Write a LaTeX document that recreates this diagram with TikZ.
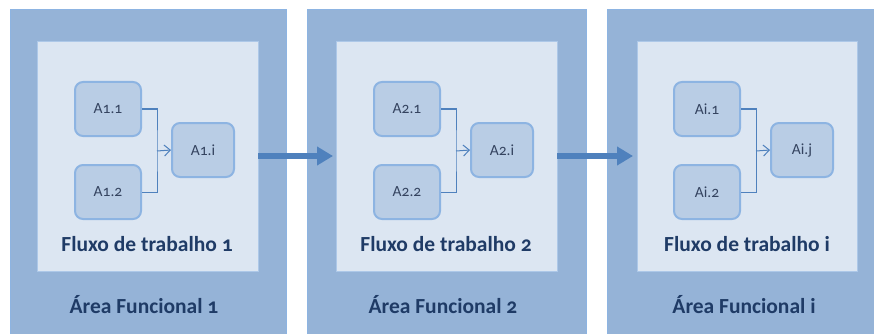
\documentclass[tikz,border=0pt]{standalone}
\usepackage{fontspec}
\setmainfont{Carlito}[Numbers=OldStyle]
\usetikzlibrary{arrows.meta}
\definecolor{areafill}{HTML}{95B3D7}
\definecolor{areaedge}{HTML}{8DB4E2}
\definecolor{flowfill}{HTML}{DCE6F2}
\definecolor{taskfill}{HTML}{B9CDE5}
\definecolor{taskedge}{HTML}{8DB4E2}
\definecolor{linkblue}{HTML}{4F81BD}
\definecolor{headtext}{HTML}{1F3B66}
\definecolor{tasktext}{HTML}{34435F}
\tikzset{
  area/.style={fill=areafill, draw=areaedge, line width=1pt},
  flow/.style={fill=flowfill, draw=areaedge!60!flowfill, line width=0.8pt},
  task/.style={fill=taskfill, draw=taskedge, line width=2pt, rounded corners=8pt,
    minimum width=66pt, minimum height=54pt, inner sep=0pt,
    font=\fontsize{15.5}{17}\selectfont, text=tasktext},
  taskend/.style={task, minimum width=62pt},
  flowlabel/.style={font=\bfseries\fontsize{21.5}{24}\selectfont, text=headtext, inner sep=0pt},
  arealabel/.style={font=\bfseries\fontsize{21.5}{24}\selectfont, text=headtext, inner sep=0pt},
  link/.style={draw=linkblue, line width=1pt},
  linktip/.style={link, -{Straight Barb[length=6pt, width=11pt, line width=1pt]}},
  bigarrow/.style={draw=linkblue, line width=6pt, -{Triangle[length=16pt, width=18pt]}}
}
\begin{document}
\begin{tikzpicture}[x=1pt, y=-1pt]
  \useasboundingbox (0,0) rectangle (874,334);
  \fill[white] (0,0) rectangle (874,334);

  % outer functional areas
  \path[area] (10,10) rectangle (286,340);
  \path[area] (307,10) rectangle (586,340);
  \path[area] (607,10) rectangle (890,340);

  % inner workflow panels
  \path[flow] (37,41) rectangle (258,271);
  \path[flow] (336,41) rectangle (557,271);
  \path[flow] (637,41) rectangle (857,271);
  \coordinate (f1e) at (258,156);
  \coordinate (f2w) at (336,156);
  \coordinate (f2e) at (557,156);
  \coordinate (f3w) at (637,156);

  % workflow 1
  \node[task] (a11) at (108,109) {A1.1};
  \node[task] (a12) at (108,192) {A1.2};
  \node[taskend] (a1i) at (203,150) {A1.i};
  \coordinate (j1) at (157,151);
  \draw[link] (a11.east) -| (j1) |- (a12.east);
  \draw[linktip] (j1) -- (a1i.west);
  \node[flowlabel] (fl1) at (147,244) {Fluxo de trabalho 1};
  \node[arealabel] (ar1) at (144,305) {Área Funcional 1};

  % workflow 2
  \node[task] (a21) at (407,109) {A2.1};
  \node[task] (a22) at (407,192) {A2.2};
  \node[taskend] (a2i) at (502,150) {A2.i};
  \coordinate (j2) at (456,151);
  \draw[link] (a21.east) -| (j2) |- (a22.east);
  \draw[linktip] (j2) -- (a2i.west);
  \node[flowlabel] (fl2) at (446,244) {Fluxo de trabalho 2};
  \node[arealabel] (ar2) at (443,305) {Área Funcional 2};

  % workflow i
  \node[task] (ai1) at (707,109) {Ai.1};
  \node[task] (ai2) at (707,192) {Ai.2};
  \node[taskend] (aij) at (802,150) {Ai.j};
  \coordinate (j3) at (756,151);
  \draw[link] (ai1.east) -| (j3) |- (ai2.east);
  \draw[linktip] (j3) -- (aij.west);
  \node[flowlabel] (fl3) at (747,244) {Fluxo de trabalho i};
  \node[arealabel] (ar3) at (744,305) {Área Funcional i};

  % hand-over arrows between areas
  \draw[bigarrow] (f1e) -- ([xshift=-3pt]f2w);
  \draw[bigarrow] (f2e) -- ([xshift=-4pt]f3w);
\end{tikzpicture}
\end{document}
